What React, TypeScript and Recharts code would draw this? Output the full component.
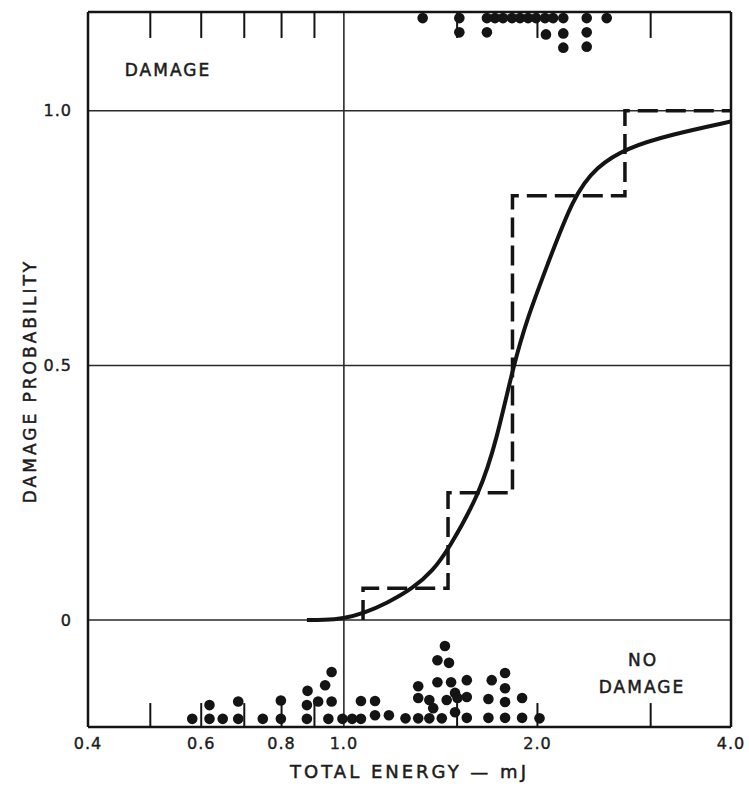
import React from "react";
import {
  ComposedChart,
  Line,
  ReferenceLine,
  Scatter,
  XAxis,
  YAxis,
} from "recharts";

// 축 눈금
const energyTicks = [0.4, 0.6, 0.8, 1.0, 2.0, 4.0];
const minorTicks = [0.5, 0.6, 0.7, 0.8, 0.9, 1.5, 2.0, 3.0];
const probTicks = [0, 0.5, 1.0];
const gridProbs = [0, 0.5, 1.0];
const gridEnergies = [1.0];

// 손상 발생 샷 (상단 띠) — e: 총 에너지(mJ), p: 쌓임 위치
const damageDots = [
  { e: 1.326, p: 1.182 },
  { e: 1.512, p: 1.182 },
  { e: 1.512, p: 1.154 },
  { e: 1.669, p: 1.182 },
  { e: 1.669, p: 1.154 },
  { e: 1.718, p: 1.182 },
  { e: 1.768, p: 1.182 },
  { e: 1.826, p: 1.182 },
  { e: 1.879, p: 1.182 },
  { e: 1.934, p: 1.182 },
  { e: 1.99, p: 1.182 },
  { e: 2.055, p: 1.182 },
  { e: 2.062, p: 1.15 },
  { e: 2.115, p: 1.182 },
  { e: 2.194, p: 1.182 },
  { e: 2.194, p: 1.152 },
  { e: 2.194, p: 1.124 },
  { e: 2.386, p: 1.182 },
  { e: 2.386, p: 1.154 },
  { e: 2.386, p: 1.126 },
  { e: 2.563, p: 1.182 },
];

// 손상 없음 샷 (하단 띠)
const noDamageDots = [
  { e: 0.581, p: -0.194 },
  { e: 0.618, p: -0.194 },
  { e: 0.618, p: -0.167 },
  { e: 0.648, p: -0.194 },
  { e: 0.685, p: -0.194 },
  { e: 0.685, p: -0.16 },
  { e: 0.748, p: -0.194 },
  { e: 0.798, p: -0.194 },
  { e: 0.798, p: -0.158 },
  { e: 0.876, p: -0.194 },
  { e: 0.876, p: -0.167 },
  { e: 0.878, p: -0.139 },
  { e: 0.912, p: -0.16 },
  { e: 0.935, p: -0.128 },
  { e: 0.946, p: -0.194 },
  { e: 0.957, p: -0.16 },
  { e: 0.957, p: -0.102 },
  { e: 0.995, p: -0.194 },
  { e: 1.03, p: -0.194 },
  { e: 1.063, p: -0.194 },
  { e: 1.063, p: -0.159 },
  { e: 1.118, p: -0.187 },
  { e: 1.118, p: -0.159 },
  { e: 1.175, p: -0.187 },
  { e: 1.247, p: -0.193 },
  { e: 1.305, p: -0.193 },
  { e: 1.305, p: -0.153 },
  { e: 1.305, p: -0.13 },
  { e: 1.358, p: -0.193 },
  { e: 1.358, p: -0.157 },
  { e: 1.377, p: -0.173 },
  { e: 1.42, p: -0.193 },
  { e: 1.398, p: -0.122 },
  { e: 1.398, p: -0.079 },
  { e: 1.436, p: -0.051 },
  { e: 1.457, p: -0.084 },
  { e: 1.445, p: -0.157 },
  { e: 1.468, p: -0.122 },
  { e: 1.489, p: -0.143 },
  { e: 1.489, p: -0.181 },
  { e: 1.502, p: -0.153 },
  { e: 1.553, p: -0.118 },
  { e: 1.553, p: -0.151 },
  { e: 1.553, p: -0.192 },
  { e: 1.678, p: -0.192 },
  { e: 1.678, p: -0.155 },
  { e: 1.698, p: -0.118 },
  { e: 1.781, p: -0.192 },
  { e: 1.781, p: -0.161 },
  { e: 1.781, p: -0.134 },
  { e: 1.781, p: -0.104 },
  { e: 1.893, p: -0.192 },
  { e: 1.893, p: -0.153 },
  { e: 2.015, p: -0.193 },
];

// 적합 곡선 (실선)
const fitCurve = [
  { e: 0.876, p: 0 },
  { e: 0.93, p: 0 },
  { e: 0.998, p: 0.003 },
  { e: 1.072, p: 0.013 },
  { e: 1.166, p: 0.033 },
  { e: 1.282, p: 0.0625 },
  { e: 1.377, p: 0.098 },
  { e: 1.452, p: 0.1375 },
  { e: 1.628, p: 0.249 },
  { e: 1.729, p: 0.355 },
  { e: 1.834, p: 0.498 },
  { e: 1.925, p: 0.59 },
  { e: 2.068, p: 0.694 },
  { e: 2.274, p: 0.832 },
  { e: 2.473, p: 0.891 },
  { e: 2.753, p: 0.927 },
  { e: 3.215, p: 0.953 },
  { e: 4.0, p: 0.979 },
];

// 구간별 관측 확률 (파선 계단)
const stepProb = [
  { e: 1.071, p: 0 },
  { e: 1.452, p: 0.0625 },
  { e: 1.829, p: 0.25 },
  { e: 2.736, p: 0.833 },
  { e: 4.0, p: 1.0 },
];

const X_DOMAIN: [number, number] = [0.4, 4.0];
const Y_DOMAIN: [number, number] = [-0.21, 1.194];
const TICK_LEN = 0.047; // 안쪽 눈금 길이 (확률 단위)
const INK = "#141414";
const TEXT = "#1c1c1c";
const FONT = "'DejaVu Sans', sans-serif";

const dot = (props: { cx?: number; cy?: number }) => (
  <circle cx={props.cx} cy={props.cy} r={5.3} fill={INK} />
);

const textStyle = {
  fill: TEXT,
  stroke: TEXT,
  strokeWidth: 0.5,
};

export default function App() {
  return (
    <div
      style={{
        position: "fixed",
        left: 0,
        top: 0,
        width: 749,
        height: 793,
        background: "#fff",
        fontFamily: FONT,
      }}
    >
      <ComposedChart
        width={749}
        height={793}
        margin={{ top: 12, right: 18, left: 8, bottom: 36 }}
        style={{ fontFamily: FONT }}
      >
        <XAxis
          xAxisId="main"
          dataKey="e"
          type="number"
          scale="log"
          domain={X_DOMAIN}
          allowDataOverflow
          ticks={energyTicks}
          tickFormatter={(v: number) => v.toFixed(1)}
          tickLine={false}
          tickMargin={5}
          height={30}
          axisLine={{ stroke: INK, strokeWidth: 2.5 }}
          tick={{ fontSize: 16, letterSpacing: 1, ...textStyle, strokeWidth: 0.4 }}
          label={{
            value: "TOTAL ENERGY — mJ",
            position: "bottom",
            offset: 8,
            fontSize: 18,
            letterSpacing: 3,
            ...textStyle,
          }}
        />
        <XAxis
          xAxisId="top"
          type="number"
          scale="log"
          domain={X_DOMAIN}
          orientation="top"
          mirror
          tick={false}
          tickLine={false}
          axisLine={{ stroke: INK, strokeWidth: 2.5 }}
        />
        <YAxis
          yAxisId="main"
          type="number"
          domain={Y_DOMAIN}
          allowDataOverflow
          ticks={probTicks}
          tickFormatter={(v: number) => (v === 0 ? "0" : v.toFixed(1))}
          tickLine={false}
          tickMargin={10}
          width={80}
          axisLine={{ stroke: INK, strokeWidth: 2.5 }}
          tick={{ fontSize: 16, letterSpacing: 1, ...textStyle, strokeWidth: 0.4 }}
        />
        <YAxis
          yAxisId="right"
          type="number"
          domain={Y_DOMAIN}
          orientation="right"
          mirror
          tick={false}
          tickLine={false}
          axisLine={{ stroke: INK, strokeWidth: 2.5 }}
        />

        {gridProbs.map((v) => (
          <ReferenceLine
            key={`gy${v}`}
            xAxisId="main"
            yAxisId="main"
            y={v}
            stroke="#2a2a2a"
            strokeWidth={1.6}
          />
        ))}
        {gridEnergies.map((v) => (
          <ReferenceLine
            key={`gx${v}`}
            xAxisId="main"
            yAxisId="main"
            x={v}
            stroke="#2a2a2a"
            strokeWidth={1.6}
          />
        ))}
        {minorTicks.map((v) => (
          <ReferenceLine
            key={`tb${v}`}
            xAxisId="main"
            yAxisId="main"
            segment={[
              { x: v, y: Y_DOMAIN[0] },
              { x: v, y: Y_DOMAIN[0] + TICK_LEN },
            ]}
            stroke={INK}
            strokeWidth={2}
          />
        ))}
        {minorTicks.map((v) => (
          <ReferenceLine
            key={`tt${v}`}
            xAxisId="main"
            yAxisId="main"
            segment={[
              { x: v, y: Y_DOMAIN[1] },
              { x: v, y: Y_DOMAIN[1] - TICK_LEN - 0.004 },
            ]}
            stroke={INK}
            strokeWidth={2}
          />
        ))}

        <Line
          xAxisId="main"
          yAxisId="main"
          data={stepProb}
          dataKey="p"
          type="stepBefore"
          stroke={INK}
          strokeWidth={3.5}
          strokeDasharray="20 8"
          dot={false}
          activeDot={false}
          isAnimationActive={false}
        />
        <Line
          xAxisId="main"
          yAxisId="main"
          data={fitCurve}
          dataKey="p"
          type="basis"
          stroke={INK}
          strokeWidth={4}
          dot={false}
          activeDot={false}
          isAnimationActive={false}
        />
        <Scatter
          xAxisId="main"
          yAxisId="main"
          data={damageDots}
          dataKey="p"
          shape={dot}
          isAnimationActive={false}
        />
        <Scatter
          xAxisId="main"
          yAxisId="main"
          data={noDamageDots}
          dataKey="p"
          shape={dot}
          isAnimationActive={false}
        />

        <text
          x={168}
          y={70}
          textAnchor="middle"
          dominantBaseline="central"
          fontSize={17}
          letterSpacing={2}
          {...textStyle}
        >
          DAMAGE
        </text>
        <text
          x={643}
          y={660}
          textAnchor="middle"
          dominantBaseline="central"
          fontSize={17}
          letterSpacing={2}
          {...textStyle}
        >
          NO
        </text>
        <text
          x={642}
          y={687}
          textAnchor="middle"
          dominantBaseline="central"
          fontSize={17}
          letterSpacing={2}
          {...textStyle}
        >
          DAMAGE
        </text>
        <text
          x={30}
          y={381}
          transform="rotate(-90 30 381)"
          textAnchor="middle"
          dominantBaseline="central"
          fontSize={17}
          letterSpacing={3}
          {...textStyle}
        >
          DAMAGE PROBABILITY
        </text>
      </ComposedChart>
    </div>
  );
}
